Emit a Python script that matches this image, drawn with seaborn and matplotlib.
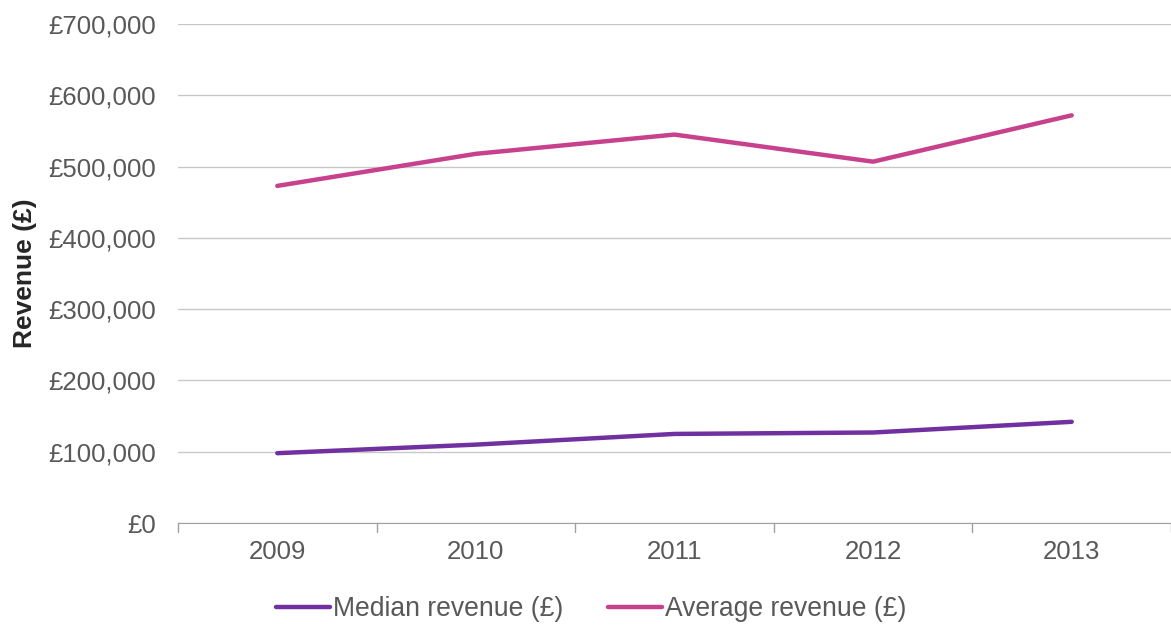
import pandas as pd
import matplotlib.pyplot as plt
import matplotlib.ticker as mticker
import seaborn as sns

years = ['2009', '2010', '2011', '2012', '2013']
median_revenue = [98000, 110000, 125000, 127000, 142000]
average_revenue = [473000, 518000, 545000, 507000, 572000]
series_names = ['Median revenue (£)', 'Average revenue (£)']
series_colors = ['#7030A0', '#C8418C']

df = pd.DataFrame({
    'Year': years * 2,
    'Revenue': median_revenue + average_revenue,
    'Series': [series_names[0]] * len(years) + [series_names[1]] * len(years),
})

sns.set_style('white')
plt.rcParams['font.family'] = ['Liberation Sans', 'DejaVu Sans']

fig = plt.figure(figsize=(11.71, 6.26), dpi=100)
ax = fig.add_axes([0.152, 0.1645, 0.848, 0.797])

sns.lineplot(data=df, x='Year', y='Revenue', hue='Series', hue_order=series_names,
             palette=series_colors, linewidth=3.2, ax=ax, sort=False)

ax.set_ylim(0, 700000)
ax.set_xlim(-0.5, 4.5)
ax.yaxis.set_major_locator(mticker.MultipleLocator(100000))
ax.yaxis.set_major_formatter(mticker.FuncFormatter(lambda v, p: f'£{v:,.0f}'))
ax.grid(axis='y', color='#c8c8c8', linewidth=1)
ax.set_axisbelow(True)

for s in ['top', 'right', 'left']:
    ax.spines[s].set_visible(False)
ax.spines['bottom'].set_color('#a0a0a0')

# ticks sit between categories, labels in the middle
ax.set_xticks(range(len(years)))
ax.set_xticklabels(years)
ax.tick_params(axis='x', length=0, pad=12, labelsize=18.5, labelcolor='#595959')
ax.tick_params(axis='y', length=0, pad=16, labelsize=18.5, labelcolor='#595959')
for b in [-0.5, 0.5, 1.5, 2.5, 3.5, 4.5]:
    ax.plot([b, b], [0, -0.018], transform=ax.get_xaxis_transform(), color='#a0a0a0',
            linewidth=1, clip_on=False)

ax.set_xlabel('')
ax.set_ylabel('Revenue (£)', fontsize=19, fontweight='bold', labelpad=8)

leg = ax.legend(loc='center', bbox_to_anchor=(0.416, -0.173), ncol=2, frameon=False,
                fontsize=19.1, handlelength=2.05, handletextpad=0.1, columnspacing=1.7)
for t in leg.get_texts():
    t.set_color('#595959')

fig.savefig('out.png', dpi=100)
